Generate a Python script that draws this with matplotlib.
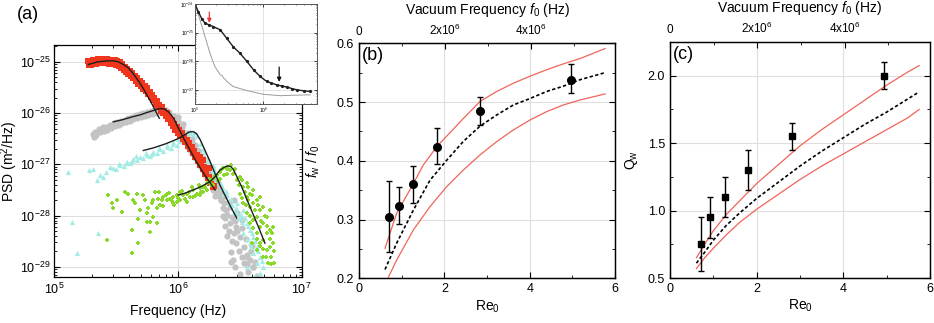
import matplotlib
matplotlib.use('Agg')
import matplotlib.pyplot as plt
import numpy as np
from matplotlib.ticker import LogLocator, MultipleLocator, NullFormatter, FixedLocator

plt.rcParams['font.family'] = 'Liberation Sans'
plt.rcParams['mathtext.fontset'] = 'custom'
plt.rcParams['mathtext.rm'] = 'Liberation Sans'
plt.rcParams['mathtext.it'] = 'Liberation Sans:italic'
plt.rcParams['xtick.direction'] = 'in'
plt.rcParams['ytick.direction'] = 'in'
plt.rcParams['axes.linewidth'] = 0.9

# ---------------- panel (a): PSD data, stored as log10 values ----------------
red_logf = [5.27, 5.28, 5.29, 5.30, 5.31, 5.32, 5.33, 5.34, 5.35, 5.36, 5.37, 5.38, 5.39, 5.40,
            5.41, 5.42, 5.43, 5.44, 5.45, 5.46, 5.47, 5.48, 5.49, 5.50, 5.51, 5.52, 5.53, 5.54,
            5.55, 5.56, 5.57, 5.58, 5.59, 5.60, 5.61, 5.62, 5.63, 5.64, 5.65, 5.66, 5.67, 5.68,
            5.69, 5.70, 5.71, 5.72, 5.73, 5.74, 5.75, 5.76, 5.77, 5.78, 5.79, 5.80, 5.81, 5.82,
            5.83, 5.84, 5.85, 5.86, 5.87, 5.88, 5.89, 5.90, 5.91, 5.92, 5.93, 5.94, 5.95, 5.96,
            5.97, 5.98, 5.99, 6.00, 6.01, 6.02, 6.03, 6.04, 6.05, 6.06, 6.07, 6.08, 6.09, 6.10,
            6.11, 6.12, 6.13, 6.14, 6.15, 6.16, 6.17, 6.18, 6.19, 6.20, 6.21, 6.22, 6.23, 6.24,
            6.25, 6.26, 6.27, 6.28, 6.29, 6.20, 6.25, 6.18]
red_logpsd = [-24.99, -25.07, -24.98, -25.06, -24.97, -25.05, -24.96, -25.04, -24.95, -25.03,
              -24.95, -25.03, -24.95, -25.03, -24.95, -25.03, -24.95, -25.04, -24.96, -25.04,
              -24.96, -25.04, -24.97, -25.06, -24.99, -25.08, -25.01, -25.11, -25.05, -25.15,
              -25.09, -25.19, -25.13, -25.23, -25.17, -25.27, -25.22, -25.32, -25.27, -25.38,
              -25.32, -25.43, -25.38, -25.48, -25.42, -25.52, -25.47, -25.57, -25.51, -25.62,
              -25.58, -25.69, -25.64, -25.75, -25.71, -25.82, -25.77, -25.89, -25.84, -25.95,
              -25.89, -26.00, -25.95, -26.05, -26.00, -26.12, -26.07, -26.19, -26.14, -26.26,
              -26.21, -26.32, -26.27, -26.38, -26.33, -26.44, -26.39, -26.50, -26.46, -26.57,
              -26.52, -26.64, -26.59, -26.71, -26.66, -26.78, -26.74, -26.86, -26.82, -26.94,
              -26.90, -27.02, -26.98, -27.10, -27.06, -27.18, -27.14, -27.27, -27.24, -27.36,
              -27.33, -27.45, -27.42, -26.92, -27.08, -26.85]

gray_logf = [5.31, 5.32, 5.33, 5.34, 5.36, 5.37, 5.39, 5.40, 5.42, 5.43, 5.45, 5.46, 5.48, 5.49,
             5.51, 5.52, 5.54, 5.55, 5.57, 5.58, 5.60, 5.61, 5.63, 5.64, 5.66, 5.67, 5.69, 5.70,
             5.72, 5.73, 5.75, 5.76, 5.78, 5.79, 5.81, 5.82, 5.84, 5.85, 5.87, 5.88, 5.90, 5.91,
             5.93, 5.94,
             5.95, 5.98, 6.01, 6.04, 6.07, 6.10, 6.13, 6.16, 6.19, 6.22, 6.25, 6.28, 6.31,
             5.97, 6.00, 6.03, 6.06, 6.09, 6.12, 6.15, 6.18, 6.21, 6.24, 6.27, 6.30, 6.33,
             5.96, 6.02, 6.08, 6.14, 6.20, 6.26, 6.32,
             5.96, 5.99, 6.02, 6.05, 6.08, 6.11, 6.14, 6.17, 6.20, 6.23, 6.26, 6.29, 6.32, 6.35,
             6.00, 6.04, 6.08, 6.11, 6.14, 6.17, 6.20, 6.23, 6.26, 6.29, 6.32, 6.35, 6.38, 6.41,
             6.33, 6.35, 6.37, 6.36, 6.39, 6.42, 6.40, 6.44, 6.42, 6.47, 6.45, 6.50, 6.47, 6.53,
             6.43, 6.555, 6.46, 6.61, 6.58, 6.64, 6.53, 6.515, 6.38, 6.41, 6.49, 6.57, 6.50,
             6.60, 6.55, 6.35, 6.30, 6.28, 6.447, 6.555, 6.609,
             6.36, 6.38, 6.40, 6.44, 6.48, 6.52, 6.56, 6.45, 6.48, 6.52, 6.59, 6.62, 6.43, 6.46]
gray_logpsd = [-26.40, -26.46, -26.36, -26.42, -26.31, -26.37, -26.28, -26.34, -26.27, -26.32,
               -26.24, -26.30, -26.20, -26.26, -26.17, -26.23, -26.15, -26.20, -26.13, -26.18,
               -26.10, -26.15, -26.07, -26.12, -26.04, -26.10, -26.02, -26.07, -26.00, -26.05,
               -25.97, -26.03, -25.95, -26.01, -25.94, -25.99, -25.92, -25.98, -25.91, -25.97,
               -25.93, -25.99, -25.98, -26.05,
               -26.15, -26.28, -26.38, -26.50, -26.60, -26.72, -26.83, -26.93, -27.05, -27.17,
               -27.28, -27.40, -27.52,
               -26.05, -26.15, -26.27, -26.38, -26.50, -26.60, -26.72, -26.83, -26.95, -27.06,
               -27.18, -27.30, -27.42,
               -26.10, -26.33, -26.55, -26.78, -27.00, -27.23, -27.47,
               -26.20, -26.32, -26.43, -26.55, -26.66, -26.77, -26.88, -27.00, -27.11, -27.22,
               -27.34, -27.46, -27.58, -27.70,
               -26.08, -26.22, -26.38, -26.50, -26.62, -26.74, -26.88, -27.00, -27.12, -27.24,
               -27.36, -27.48, -27.62, -27.74,
               -27.62, -27.70, -27.76, -27.85, -27.90, -27.83, -27.98, -28.02, -28.15, -28.22,
               -28.35, -28.41, -28.54, -28.61, -28.71, -28.77, -29.00, -29.00, -28.87, -29.19,
               -28.93, -28.09, -28.05, -28.30, -28.70, -29.10, -29.15, -28.60, -28.45, -27.55,
               -27.62, -27.50, -28.87, -28.80, -29.00,
               -28.00, -28.20, -28.40, -28.50, -28.30, -28.80, -28.95, -27.70, -27.95, -28.25,
               -28.70, -28.90, -28.90, -28.10]

cyan_logf = [5.113, 5.141, 5.181, 5.283, 5.315, 5.356, 5.343, 5.37, 5.42, 5.39, 5.45,
             5.477, 5.531, 5.585, 5.64, 5.69, 5.747, 5.80, 5.855, 5.909, 5.962, 6.016, 6.044,
             6.07, 6.097, 6.124, 6.15,
             5.50, 5.56, 5.61, 5.67, 5.72, 5.77, 5.83, 5.88, 5.94, 5.99,
             5.52, 5.58, 5.63, 5.66, 5.74, 5.79, 5.85, 5.91, 5.96, 6.00, 6.03, 6.06, 6.10, 6.13,
             6.18, 6.21, 6.232, 6.272, 6.313, 6.353, 6.394, 6.434, 6.474, 6.515,
             6.25, 6.29, 6.33, 6.37, 6.41, 6.45, 6.49,
             6.20, 6.24, 6.28, 6.31, 6.35, 6.39, 6.43, 6.47, 6.51, 6.54, 6.57, 6.60, 6.62, 6.65,
             6.68, 6.56, 6.59,
             6.474, 6.528, 6.501, 6.555, 6.582, 6.528, 6.609, 6.582, 6.636, 6.609, 6.663,
             6.636, 6.69, 6.663, 6.703, 6.555, 6.62]
cyan_logpsd = [-27.15, -28.12, -28.74, -27.11, -27.10, -28.35, -27.31, -27.21, -27.15, -27.25,
               -27.05,
               -27.08, -27.02, -26.95, -26.90, -26.85, -26.81, -26.76, -26.71, -26.66, -26.61,
               -26.55, -26.45, -26.42, -26.39, -26.40, -26.45,
               -27.10, -27.03, -26.97, -26.92, -26.87, -26.83, -26.78, -26.74, -26.69, -26.62,
               -27.00, -26.98, -26.93, -26.84, -26.78, -26.80, -26.68, -26.63, -26.57, -26.50,
               -26.44, -26.37, -26.35, -26.36,
               -26.60, -26.75, -26.95, -27.15, -27.28, -27.47, -27.60, -27.80, -27.93, -28.12,
               -26.95, -27.10, -27.35, -27.58, -27.75, -27.95, -28.05,
               -26.70, -26.88, -27.02, -27.20, -27.38, -27.52, -27.68, -27.85, -27.98, -28.05,
               -28.20, -28.35, -28.50, -28.70, -28.88, -28.45, -28.62,
               -27.76, -27.89, -28.02, -28.15, -28.28, -28.35, -28.41, -28.54, -28.61, -28.74,
               -28.80, -28.93, -29.00, -29.13, -29.23, -29.00, -29.18]

green_logf = [5.437, 5.464, 5.477, 5.504, 5.545, 5.572, 5.599, 5.626, 5.639, 5.653, 5.666,
              5.679, 5.693, 5.72, 5.733, 5.747, 5.76, 5.774, 5.787, 5.801, 5.814, 5.828, 5.841,
              5.855, 5.868, 5.423, 5.626, 5.679, 5.774, 5.828, 5.747, 5.801,
              5.881, 5.908, 5.935, 5.962, 5.989, 6.016, 6.043, 6.070, 6.097, 6.124, 6.151,
              6.178, 6.205, 6.232, 6.259, 6.286, 6.313, 6.340, 6.367, 6.394, 6.421,
              5.908, 5.962, 6.016, 6.070, 6.124, 6.178, 6.232, 6.286, 6.34, 6.394, 5.989, 6.205,
              5.90, 5.95, 6.00, 6.03, 6.06, 6.09, 6.11, 6.14, 6.17, 6.19, 6.22, 6.25, 6.27, 6.30,
              6.32, 6.35, 6.37, 6.40, 6.43, 5.85, 5.88, 5.93, 5.97,
              6.448, 6.474, 6.501, 6.501, 6.528, 6.528, 6.555, 6.555, 6.555, 6.582, 6.582, 6.582,
              6.609, 6.609, 6.609, 6.636, 6.636, 6.636, 6.663, 6.663, 6.663, 6.663, 6.69, 6.69,
              6.69, 6.717, 6.717, 6.717, 6.744, 6.744, 6.744, 6.771, 6.771, 6.73, 6.69, 6.636,
              6.596, 6.72, 6.75, 6.78,
              6.46, 6.49, 6.52, 6.54, 6.57, 6.57, 6.60, 6.62, 6.65, 6.67, 6.70, 6.72, 6.74, 6.76,
              6.78, 6.69, 6.64, 6.61, 6.58, 6.55, 6.52, 6.66, 6.71, 6.75]
green_logpsd = [-27.60, -27.76, -27.86, -27.70, -27.93, -27.54, -27.57, -28.28, -27.70, -27.76,
                -27.57, -28.06, -27.89, -27.60, -27.70, -27.96, -27.86, -28.12, -27.76, -27.70,
                -27.54, -27.86, -27.67, -27.80, -27.70, -28.48, -28.73, -28.54, -28.32, -28.15,
                -28.12, -28.02,
                -27.63, -27.70, -27.67, -27.63, -27.60, -27.70, -27.60, -27.57, -27.63, -27.50,
                -27.57, -27.47, -27.44, -27.37, -27.34, -27.28, -27.21, -27.15, -27.08, -27.05,
                -27.11,
                -27.57, -27.76, -27.54, -27.73, -27.63, -27.60, -27.50, -27.41, -27.28, -27.18,
                -27.73, -27.54,
                -27.60, -27.72, -27.65, -27.52, -27.68, -27.55, -27.45, -27.62, -27.40, -27.55,
                -27.45, -27.28, -27.40, -27.22, -27.32, -27.12, -27.20, -27.10, -27.02, -27.55,
                -27.82, -27.56, -27.80,
                -27.18, -27.31, -27.24, -27.57, -27.44, -27.76, -27.37, -27.63, -27.96, -27.57,
                -27.83, -28.15, -27.50, -27.76, -28.09, -27.70, -28.02, -28.35, -27.63, -27.89,
                -28.22, -28.54, -27.83, -28.15, -28.48, -28.02, -28.35, -28.67, -27.89, -28.28,
                -28.61, -28.22, -28.54, -28.93, -28.80, -28.67, -28.54, -28.68, -28.80, -28.93,
                -27.10, -27.40, -27.30, -27.55, -27.45, -27.70, -27.60, -27.90, -27.80, -28.10,
                -28.00, -28.20, -28.45, -28.35, -28.70, -28.65, -28.45, -28.25, -28.00, -27.80,
                -27.65, -28.60, -28.80, -28.95]

# fitted curves (log10 values)
fit_red_logf = [5.275, 5.35, 5.43, 5.48, 5.52, 5.558, 5.60, 5.639, 5.68, 5.72, 5.787, 5.849]
fit_red_logpsd = [-25.05, -25.00, -24.98, -24.98, -25.00, -25.05, -25.12, -25.23, -25.37,
                  -25.52, -25.81, -26.10]
fit_gray_logf = [5.477, 5.55, 5.62, 5.70, 5.747, 5.80, 5.855, 5.89, 5.93, 5.97, 6.00, 6.07,
                 6.137, 6.205, 6.30]
fit_gray_logpsd = [-26.17, -26.13, -26.08, -26.03, -25.99, -25.95, -25.91, -25.92, -25.99,
                   -26.12, -26.28, -26.60, -26.90, -27.17, -27.50]
fit_cyan_logf = [5.72, 5.80, 5.90, 6.00, 6.05, 6.09, 6.12, 6.15, 6.18, 6.26, 6.34, 6.42, 6.475]
fit_cyan_logpsd = [-26.73, -26.68, -26.60, -26.50, -26.43, -26.37, -26.36, -26.40, -26.52,
                   -26.95, -27.41, -27.80, -28.05]
fit_green_logf = [6.003, 6.06, 6.124, 6.19, 6.259, 6.30, 6.34, 6.38, 6.407, 6.43, 6.447, 6.48,
                  6.515, 6.582, 6.65, 6.703]
fit_green_logpsd = [-27.60, -27.56, -27.50, -27.43, -27.34, -27.24, -27.11, -27.05, -27.03,
                    -27.05, -27.10, -27.26, -27.44, -27.83, -28.22, -28.54]

# inset spectra (log10 values)
inset_black_logf = [5.0, 5.05, 5.10, 5.147, 5.20, 5.27, 5.37, 5.466, 5.56, 5.66, 5.76, 5.86,
                    5.956, 6.05, 6.12, 6.2, 6.27, 6.35, 6.42, 6.5, 6.6, 6.69]
inset_black_logpsd = [-24.0, -24.28, -24.52, -24.67, -24.72, -24.79, -24.90, -25.20, -25.49,
                      -25.72, -26.0, -26.30, -26.53, -26.70, -26.76, -26.82, -26.86, -26.90,
                      -26.95, -27.0, -27.03, -27.05]
inset_gray_logf = [5.0, 5.074, 5.147, 5.22, 5.29, 5.37, 5.40, 5.42, 5.44, 5.466, 5.56, 5.76,
                   6.0, 6.25, 6.5, 6.69]
inset_gray_logpsd = [-24.0, -24.56, -25.14, -25.72, -26.18, -26.47, -26.50, -26.59, -26.62,
                     -26.70, -26.88, -27.02, -27.15, -27.20, -27.18, -27.17]
arrow_red = [5.21, -24.28, -24.66]     # log f, log psd start, log psd end
arrow_black = [6.235, -26.20, -26.72]

# ---------------- panel (b) ----------------
re_b = [0.71, 0.93, 1.27, 1.82, 2.83, 4.96]
fw_b = [0.305, 0.323, 0.360, 0.424, 0.485, 0.538]
fw_err_lo = [0.060, 0.030, 0.031, 0.030, 0.024, 0.023]
fw_err_hi = [0.060, 0.032, 0.031, 0.031, 0.024, 0.027]
curve_b_re = [0.609, 0.883, 1.273, 1.664, 2.055, 2.445, 2.836, 3.227, 3.617, 4.008, 4.398,
              4.789, 5.18, 5.766]
curve_b_mid = [0.215, 0.260, 0.316, 0.367, 0.401, 0.433, 0.459, 0.478, 0.495, 0.506, 0.518,
               0.527, 0.538, 0.550]
curve_b_up_re = [0.609, 0.883, 1.234, 1.508, 1.820, 2.133, 2.445, 2.836, 3.227, 3.617, 4.008,
                 4.398, 4.789, 5.180, 5.766]
curve_b_up = [0.251, 0.311, 0.356, 0.393, 0.424, 0.448, 0.472, 0.501, 0.518, 0.532, 0.544,
              0.555, 0.565, 0.574, 0.591]
curve_b_lo_re = [0.6875, 0.883, 1.273, 1.664, 2.055, 2.445, 2.836, 3.227, 3.617, 4.008, 4.398,
                 4.789, 5.18, 5.766]
curve_b_lo = [0.2017, 0.2312, 0.2823, 0.322, 0.356, 0.3844, 0.410, 0.4326, 0.4525, 0.4695,
              0.4837, 0.495, 0.5035, 0.5138]

# ---------------- panel (c) ----------------
re_c = [0.71, 0.92, 1.26, 1.81, 2.81, 4.95]
q_c = [0.75, 0.95, 1.10, 1.30, 1.55, 2.00]
q_err = [0.20, 0.15, 0.15, 0.15, 0.10, 0.10]
curve_c_re = [0.61, 0.8, 1.0, 1.3, 1.6, 2.0, 2.5, 3.0, 3.5, 4.0, 4.5, 5.0, 5.5, 5.75]
curve_c_up = [0.65, 0.75, 0.85, 0.97, 1.07, 1.20, 1.34, 1.48, 1.60, 1.71, 1.82, 1.93, 2.03, 2.075]
curve_c_mid = [0.61, 0.69, 0.78, 0.89, 0.98, 1.09, 1.21, 1.33, 1.44, 1.54, 1.64, 1.73, 1.83, 1.88]
curve_c_lo = [0.57, 0.65, 0.72, 0.82, 0.91, 1.01, 1.12, 1.23, 1.33, 1.42, 1.51, 1.60, 1.69, 1.75]

top_ticks = [0, 2e6, 4e6]
top_labels = ['0', '2x10$^6$', '4x10$^6$']

grid_col = '#dedede'
curve_red = '#f0645a'

fig = plt.figure(figsize=(9.34, 3.23), dpi=100)

# ---------------- (a) ----------------
ax = fig.add_axes([0.0581, 0.1424, 0.2649, 0.7183])
ax.set_xscale('log')
ax.set_yscale('log')
ax.set_axisbelow(True)
ax.grid(True, which='major', color=grid_col, lw=0.8)
ax.scatter(10 ** np.array(gray_logf), 10 ** np.array(gray_logpsd), s=20, marker='o',
           color='#c3c3c3', linewidths=0, zorder=2)
ax.scatter(10 ** np.array(cyan_logf), 10 ** np.array(cyan_logpsd), s=14, marker='^',
           color='#a3ebe5', linewidths=0, zorder=2)
ax.scatter(10 ** np.array(red_logf), 10 ** np.array(red_logpsd), s=18, marker='s',
           color='#f0361c', linewidths=0, zorder=3)
ax.scatter(10 ** np.array(green_logf), 10 ** np.array(green_logpsd), s=11, marker='P',
           color='#8ad829', linewidths=0, zorder=3)
for fx, fy in [(fit_red_logf, fit_red_logpsd), (fit_gray_logf, fit_gray_logpsd),
               (fit_cyan_logf, fit_cyan_logpsd), (fit_green_logf, fit_green_logpsd)]:
    ax.plot(10 ** np.array(fx), 10 ** np.array(fy), color='#1e1e1e', lw=1.0, zorder=4)
ax.set_xlim(1e5, 1e7)
ax.set_ylim(10 ** -29.2, 10 ** -24.67)
ax.yaxis.set_major_locator(FixedLocator([1e-29, 1e-28, 1e-27, 1e-26, 1e-25]))
ax.yaxis.set_minor_locator(LogLocator(base=10, subs=np.arange(2, 10), numticks=20))
ax.yaxis.set_minor_formatter(NullFormatter())
ax.xaxis.set_minor_formatter(NullFormatter())
ax.tick_params(which='both', top=True, right=True, labelsize=9)
ax.tick_params(axis='y', which='major', pad=2.5)
ax.tick_params(which='major', length=4)
ax.tick_params(which='minor', length=2)
ax.set_xlabel('Frequency (Hz)', fontsize=10)
ax.xaxis.set_label_coords(0.5, -0.115)
ax.set_ylabel('PSD (m$^2$/Hz)', fontsize=10)
ax.yaxis.set_label_coords(-0.138, 0.5)
fig.text(17 / 934, 1 - 6 / 323, '(a)', fontsize=13, va='top', ha='left')

# inset
ins = fig.add_axes([0.2088, 0.678, 0.1306, 0.3096])
ins.set_xscale('log')
ins.set_yscale('log')
ins.set_axisbelow(True)
ins.grid(True, which='major', color=grid_col, lw=0.6)
ins.plot(10 ** np.array(inset_gray_logf), 10 ** np.array(inset_gray_logpsd), color='#9c9c9c',
         lw=0.7)
ins.plot(10 ** np.array(inset_black_logf), 10 ** np.array(inset_black_logpsd), color='#202020',
         lw=1.0, marker='o', ms=1.3)
ins.annotate('', xy=(10 ** arrow_red[0], 10 ** arrow_red[2]),
             xytext=(10 ** arrow_red[0], 10 ** arrow_red[1]),
             arrowprops=dict(arrowstyle='-|>', color='#e8383d', lw=0.9, mutation_scale=6,
                             shrinkA=0, shrinkB=0))
ins.annotate('', xy=(10 ** arrow_black[0], 10 ** arrow_black[2]),
             xytext=(10 ** arrow_black[0], 10 ** arrow_black[1]),
             arrowprops=dict(arrowstyle='-|>', color='#111111', lw=0.9, mutation_scale=6,
                             shrinkA=0, shrinkB=0))
ins.set_xlim(1e5, 10 ** 6.79)
ins.set_ylim(10 ** -27.49, 1e-24)
ins.yaxis.set_major_locator(FixedLocator([1e-27, 1e-26, 1e-25, 1e-24]))
ins.yaxis.set_minor_locator(LogLocator(base=10, subs=np.arange(2, 10), numticks=20))
ins.yaxis.set_minor_formatter(NullFormatter())
ins.xaxis.set_major_locator(FixedLocator([1e5, 1e6]))
ins.xaxis.set_minor_formatter(NullFormatter())
ins.tick_params(which='both', top=True, right=True, labelsize=3.5, pad=1)
ins.tick_params(which='major', length=2, width=0.5)
ins.tick_params(which='minor', length=1, width=0.4)
for sp in ins.spines.values():
    sp.set_linewidth(0.7)
    sp.set_color('#555555')

# ---------------- (b) ----------------
bx = fig.add_axes([0.3844, 0.1384, 0.2741, 0.7276])
bx.set_axisbelow(True)
bx.grid(True, which='major', color=grid_col, lw=0.8)
bx.plot(curve_b_up_re, curve_b_up, color=curve_red, lw=0.9)
bx.plot(curve_b_lo_re, curve_b_lo, color=curve_red, lw=0.9)
bx.plot(curve_b_re, curve_b_mid, color='black', lw=1.2, ls=(0, (2.0, 1.4)))
bx.errorbar(re_b, fw_b, yerr=[fw_err_lo, fw_err_hi], fmt='o', color='black', ms=5.5,
            capsize=2.5, elinewidth=1, capthick=1, zorder=5)
bx.set_xlim(0, 6)
bx.set_ylim(0.2, 0.6)
bx.xaxis.set_major_locator(MultipleLocator(2))
bx.xaxis.set_minor_locator(MultipleLocator(1))
bx.yaxis.set_major_locator(MultipleLocator(0.1))
bx.yaxis.set_minor_locator(MultipleLocator(0.05))
bx.yaxis.set_major_formatter(matplotlib.ticker.FormatStrFormatter('%.1f'))
bx.tick_params(which='both', right=True, top=False, labelsize=9)
bx.tick_params(which='major', length=4)
bx.tick_params(which='minor', length=2.5)
bx.set_xlabel('Re$_0$', fontsize=10)
bx.xaxis.set_label_coords(0.5, -0.085)
bx.set_ylabel('$f_\\mathrm{w}$ / $f_0$', fontsize=10)
bx.yaxis.set_label_coords(-0.145, 0.5)
bx.text(0.012, 0.985, '(b)', transform=bx.transAxes, fontsize=13, va='top', ha='left')

# ---------------- (c) ----------------
cx = fig.add_axes([0.7173, 0.1393, 0.2784, 0.7307])
cx.set_axisbelow(True)
cx.grid(True, which='major', color=grid_col, lw=0.8)
cx.plot(curve_c_re, curve_c_up, color=curve_red, lw=0.9)
cx.plot(curve_c_re, curve_c_lo, color=curve_red, lw=0.9)
cx.plot(curve_c_re, curve_c_mid, color='black', lw=1.2, ls=(0, (2.0, 1.4)))
cx.errorbar(re_c, q_c, yerr=q_err, fmt='s', color='black', ms=5,
            capsize=2.5, elinewidth=1, capthick=1, zorder=5)
cx.set_xlim(0, 6)
cx.set_ylim(0.5, 2.25)
cx.xaxis.set_major_locator(MultipleLocator(2))
cx.xaxis.set_minor_locator(MultipleLocator(1))
cx.yaxis.set_major_locator(FixedLocator([0.5, 1.0, 1.5, 2.0]))
cx.yaxis.set_minor_locator(MultipleLocator(0.25))
cx.yaxis.set_major_formatter(matplotlib.ticker.FormatStrFormatter('%.1f'))
cx.tick_params(which='both', right=True, top=False, labelsize=9)
cx.tick_params(which='major', length=4)
cx.tick_params(which='minor', length=2.5)
cx.set_xlabel('Re$_0$', fontsize=10)
cx.xaxis.set_label_coords(0.5, -0.085)
cx.set_ylabel('Q$_\\mathrm{w}$', fontsize=10)
cx.yaxis.set_label_coords(-0.115, 0.5)
cx.text(0.012, 0.985, '(c)', transform=cx.transAxes, fontsize=13, va='top', ha='left')

# top axes: vacuum frequency
for a in (bx, cx):
    t = a.twiny()
    t.set_xlim(0, 5.95e6)
    t.xaxis.set_major_locator(FixedLocator(top_ticks))
    t.xaxis.set_minor_locator(MultipleLocator(1e6))
    t.set_xticklabels(top_labels)
    t.tick_params(which='both', direction='in', labelsize=8.5, pad=4)
    t.tick_params(which='major', length=4)
    t.tick_params(which='minor', length=2.5)
    t.set_xlabel('Vacuum Frequency $f_0$ (Hz)', fontsize=10)
    t.xaxis.set_label_coords(0.5, 1.125)

fig.savefig('out.png', dpi=100)
